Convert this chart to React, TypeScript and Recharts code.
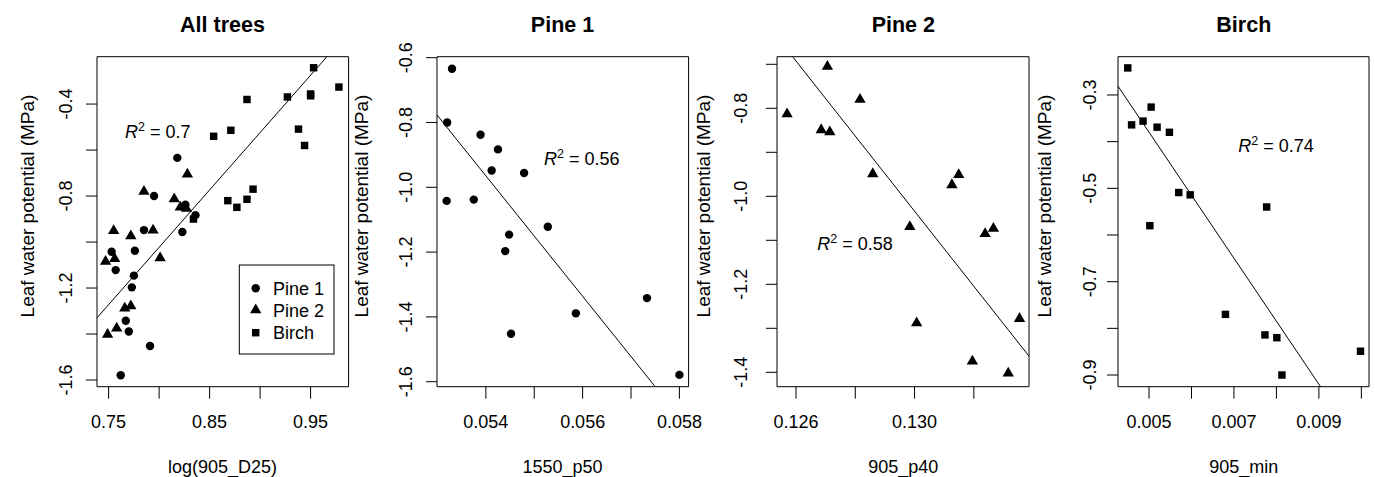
import React from 'react';
import { ScatterChart, Scatter, XAxis, YAxis, ReferenceLine, ReferenceArea } from 'recharts';

// leaf water potential (MPa), one value per tree, same order in every x array below
const psiPine1 = [-0.634, -0.800, -0.838, -0.883, -0.948, -0.956, -1.038, -1.042, -1.122, -1.146, -1.197, -1.342, -1.389, -1.452, -1.579];
const psiPine2 = [-0.705, -0.780, -0.813, -0.849, -0.854, -0.949, -0.951, -0.974, -1.069, -1.073, -1.085, -1.278, -1.288, -1.375, -1.402];
const psiBirch = [-0.242, -0.326, -0.356, -0.364, -0.369, -0.380, -0.509, -0.514, -0.540, -0.580, -0.770, -0.814, -0.820, -0.849, -0.900];

// log(905_D25)
const d25Pine1 = [0.818, 0.795, 0.826, 0.836, 0.785, 0.823, 0.776, 0.753, 0.757, 0.775, 0.773, 0.767, 0.770, 0.791, 0.762];
const d25Pine2 = [0.828, 0.785, 0.815, 0.821, 0.827, 0.794, 0.755, 0.772, 0.801, 0.756, 0.747, 0.772, 0.766, 0.758, 0.749];
const d25Birch = [0.953, 0.978, 0.950, 0.950, 0.927, 0.887, 0.938, 0.871, 0.854, 0.944, 0.893, 0.887, 0.868, 0.877, 0.834];

// 1550_p50, 905_p40, 905_min
const p50Pine1 = [0.05330, 0.05320, 0.05389, 0.05425, 0.05412, 0.05479, 0.05375, 0.05319, 0.05528, 0.05448, 0.05440, 0.05733, 0.05586, 0.05452, 0.05800];
const p40Pine2 = [0.12706, 0.12816, 0.12570, 0.12685, 0.12714, 0.12859, 0.13149, 0.13126, 0.12984, 0.13266, 0.13238, 0.13354, 0.13007, 0.13195, 0.13316];
const minBirch = [0.00450, 0.00505, 0.00486, 0.00459, 0.00519, 0.00548, 0.00570, 0.00597, 0.00777, 0.00502, 0.00680, 0.00773, 0.00801, 0.00998, 0.00813];

const titles = ['All trees', 'Pine 1', 'Pine 2', 'Birch'];
const xTitles = ['log(905_D25)', '1550_p50', '905_p40', '905_min'];
const r2Values = ['0.7', '0.56', '0.58', '0.74'];

// fitted lines: [intercept, slope]
const fits = [[-5.014, 4.989], [9.074, -185.9], [10.063, -85.36], [0.2953, -135.0]];

const xTicks = [
  [0.75, 0.8, 0.85, 0.9, 0.95],
  [0.054, 0.055, 0.056, 0.057, 0.058],
  [0.126, 0.128, 0.13, 0.132],
  [0.005, 0.006, 0.007, 0.008, 0.009, 0.01],
];
const xTickLabels = [
  ['0.75', '', '0.85', '', '0.95'],
  ['0.054', '', '0.056', '', '0.058'],
  ['0.126', '', '0.130', ''],
  ['0.005', '', '0.007', '', '0.009', ''],
];
const yTicks = [
  [-0.4, -0.6, -0.8, -1.0, -1.2, -1.4, -1.6],
  [-0.6, -0.8, -1.0, -1.2, -1.4, -1.6],
  [-0.7, -0.8, -0.9, -1.0, -1.1, -1.2, -1.3, -1.4],
  [-0.3, -0.4, -0.5, -0.6, -0.7, -0.8, -0.9],
];
const yTickLabels = [
  ['-0.4', '', '-0.8', '', '-1.2', '', '-1.6'],
  ['-0.6', '-0.8', '-1.0', '-1.2', '-1.4', '-1.6'],
  ['', '-0.8', '', '-1.0', '', '-1.2', '', '-1.4'],
  ['-0.3', '', '-0.5', '', '-0.7', '', '-0.9'],
];

const xDomains = [[0.7385, 0.9876], [0.05299, 0.05819], [0.12536, 0.13386], [0.00427, 0.01018]];
const yDomains = [[-1.629, -0.194], [-1.6154, -0.597], [-1.4327, -0.6827], [-0.925, -0.218]];

const legendNames = ['Pine 1', 'Pine 2', 'Birch'];

// layout (pixels)
const W = 1375;
const H = 477;
const BOX_TOP = 56.7;
const BOX_BOTTOM = 386.7;
const boxLeft = [96.7, 436.7, 777.3, 1118.3];
const boxRight = [348.3, 688.3, 1029.3, 1369.3];
const yTickOffset = [25, 24.7, 30, 22];
const yTitleX = [34, 367.5, 709.5, 1051];
const r2Pos = [[125, 138.3], [544, 165], [817.3, 250], [1238.3, 151.7]];
const FONT = '"Liberation Sans", Arial, Helvetica, sans-serif';

type Kind = 'circle' | 'triangle' | 'square';

function Mark({ kind, cx, cy }: { kind: Kind; cx: number; cy: number }) {
  const r = 4.2;
  if (kind === 'circle') return <circle cx={cx} cy={cy} r={r} fill="#000" />;
  if (kind === 'square') {
    const h = r * 0.886;
    return <rect x={cx - h} y={cy - h} width={2 * h} height={2 * h} fill="#000" />;
  }
  const top = 1.555 * r;
  const base = 0.778 * r;
  const half = 1.347 * r;
  return <polygon points={`${cx},${cy - top} ${cx + half},${cy + base} ${cx - half},${cy + base}`} fill="#000" />;
}

const zip = (xs: number[], ys: number[]) => xs.map((x, i) => ({ x, y: ys[i] }));

const panelSeries: { kind: Kind; data: { x: number; y: number }[] }[][] = [
  [
    { kind: 'circle', data: zip(d25Pine1, psiPine1) },
    { kind: 'triangle', data: zip(d25Pine2, psiPine2) },
    { kind: 'square', data: zip(d25Birch, psiBirch) },
  ],
  [{ kind: 'circle', data: zip(p50Pine1, psiPine1) }],
  [{ kind: 'triangle', data: zip(p40Pine2, psiPine2) }],
  [{ kind: 'square', data: zip(minBirch, psiBirch) }],
];

function fitSegment(fit: number[], xd: number[], yd: number[]) {
  const [a, b] = fit;
  const xa = (yd[0] - a) / b;
  const xb = (yd[1] - a) / b;
  const x0 = Math.max(xd[0], Math.min(xa, xb));
  const x1 = Math.min(xd[1], Math.max(xa, xb));
  return [
    { x: x0, y: a + b * x0 },
    { x: x1, y: a + b * x1 },
  ];
}

function labelFor(ticks: number[], labels: string[], v: number) {
  const i = ticks.findIndex((t) => Math.abs(t - v) < 1e-9);
  return i >= 0 ? labels[i] : '';
}

function Panel({ i }: { i: number }) {
  const left = boxLeft[i] - 90;
  const plotW = boxRight[i] - boxLeft[i];
  const xd = xDomains[i];
  const yd = yDomains[i];
  return (
    <div style={{ position: 'absolute', left, top: 0 }}>
      <ScatterChart
        width={90 + plotW + 30}
        height={H}
        margin={{ top: BOX_TOP, right: 30, bottom: H - BOX_BOTTOM - 30, left: 50 }}
      >
        <XAxis
          type="number"
          dataKey="x"
          domain={xd}
          allowDataOverflow
          ticks={xTicks[i]}
          interval={0}
          height={30}
          tickSize={12}
          tickMargin={17}
          axisLine={false}
          tickLine={{ stroke: '#000', strokeWidth: 1 }}
          tick={(props: any) => (
            <text x={props.x} y={props.y} dy="0.71em" textAnchor="middle" fontSize={18} fontFamily={FONT} fill="#000">
              {labelFor(xTicks[i], xTickLabels[i], props.payload.value)}
            </text>
          )}
        />
        <YAxis
          type="number"
          dataKey="y"
          domain={yd}
          allowDataOverflow
          ticks={yTicks[i]}
          interval={0}
          width={40}
          tickSize={11}
          tickMargin={yTickOffset[i] - 11}
          axisLine={false}
          tickLine={{ stroke: '#000', strokeWidth: 1 }}
          tick={(props: any) => (
            <text
              x={props.x}
              y={props.y}
              transform={`rotate(-90 ${props.x} ${props.y})`}
              textAnchor="middle"
              fontSize={18}
              fontFamily={FONT}
              fill="#000"
            >
              {labelFor(yTicks[i], yTickLabels[i], props.payload.value)}
            </text>
          )}
        />
        <ReferenceArea x1={xd[0]} x2={xd[1]} y1={yd[0]} y2={yd[1]} fill="none" stroke="#000" strokeWidth={1} ifOverflow="visible" />
        <ReferenceLine segment={fitSegment(fits[i], xd, yd)} stroke="#000" strokeWidth={1} ifOverflow="visible" />
        {panelSeries[i].map((s, k) => (
          <Scatter
            key={k}
            data={s.data}
            isAnimationActive={false}
            shape={(p: any) => <Mark kind={s.kind} cx={p.cx} cy={p.cy} />}
          />
        ))}
      </ScatterChart>
    </div>
  );
}

export default function App() {
  const kinds: Kind[] = ['circle', 'triangle', 'square'];
  const legendY = [288.3, 310, 332.7];
  return (
    <div style={{ position: 'absolute', left: 0, top: 0, width: W, height: H, background: '#fff', overflow: 'hidden' }}>
      {titles.map((_, i) => (
        <Panel key={i} i={i} />
      ))}
      <svg width={W} height={H} style={{ position: 'absolute', left: 0, top: 0, pointerEvents: 'none' }} fontFamily={FONT}>
        {titles.map((t, i) => {
          const cx = (boxLeft[i] + boxRight[i]) / 2;
          const [rx, ry] = r2Pos[i];
          return (
            <g key={t}>
              <text x={cx} y={31.7} textAnchor="middle" fontWeight="bold" fontSize={21.5} fill="#000">
                {t}
              </text>
              <text x={cx} y={472.5} textAnchor="middle" fontSize={18} fill="#000">
                {xTitles[i]}
              </text>
              <text
                x={yTitleX[i]}
                y={206}
                transform={`rotate(-90 ${yTitleX[i]} 206)`}
                textAnchor="middle"
                fontSize={19}
                fill="#000"
              >
                Leaf water potential (MPa)
              </text>
              <text x={rx} y={ry} fontSize={18} fill="#000">
                <tspan fontStyle="italic">R</tspan>
                <tspan fontSize={12.5} dy={-7}>2</tspan>
                <tspan dy={7}>{` = ${r2Values[i]}`}</tspan>
              </text>
            </g>
          );
        })}
        <rect x={239.3} y={265} width={94.7} height={89} fill="#fff" stroke="#000" strokeWidth={1} />
        {legendNames.map((n, k) => (
          <g key={n}>
            <Mark kind={kinds[k]} cx={255.7} cy={legendY[k]} />
            <text x={273} y={legendY[k] + 6.6} fontSize={18} fill="#000">
              {n}
            </text>
          </g>
        ))}
      </svg>
    </div>
  );
}
